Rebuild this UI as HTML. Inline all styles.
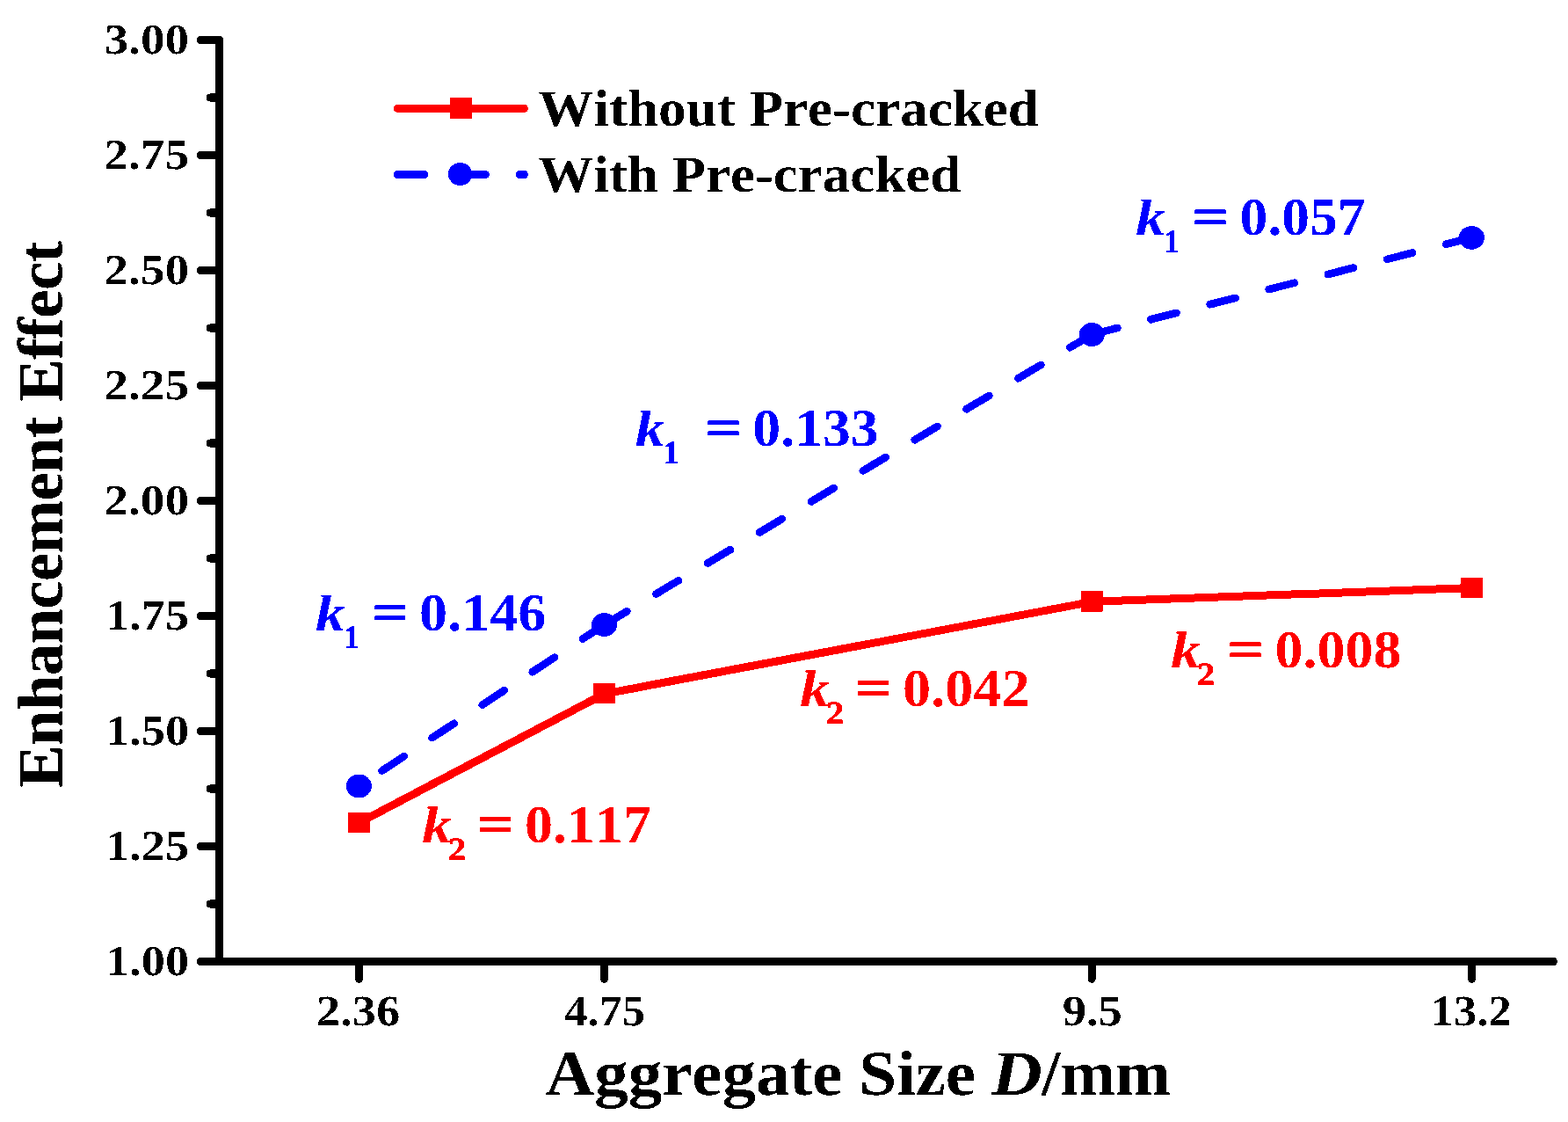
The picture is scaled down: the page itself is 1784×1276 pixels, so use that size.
<!DOCTYPE html>
<html lang="en">
<head>
<meta charset="utf-8">
<title>Enhancement Effect vs Aggregate Size</title>
<style>
html,body{margin:0;padding:0;background:#fff;overflow:hidden}
svg{display:block;font-family:"Liberation Serif","DejaVu Serif",serif;font-weight:bold;font-kerning:none;text-rendering:geometricPrecision}
text{white-space:pre}
</style>
</head>
<body>
<svg width="1784" height="1276" viewBox="0 0 1784 1276">
<defs>
<filter id="hard" filterUnits="userSpaceOnUse" x="0" y="0" width="1784" height="1276" color-interpolation-filters="sRGB">
<feComponentTransfer><feFuncR type="discrete" tableValues="0 1"/><feFuncG type="discrete" tableValues="0 1"/><feFuncB type="discrete" tableValues="0 1"/><feFuncA type="discrete" tableValues="0 1"/></feComponentTransfer>
</filter>
</defs>
<rect width="1784" height="1276" fill="#fff"/>
<g id="chart" filter="url(#hard)">
<g id="axes" stroke="#000" stroke-width="9" stroke-linecap="round" fill="none">
<line x1="249.5" y1="45.5" x2="249.5" y2="1093.5"/>
<line x1="228.5" y1="1093.5" x2="1767.5" y2="1093.5"/>
<line x1="228.5" y1="45.5" x2="249.5" y2="45.5"/>
<line x1="228.5" y1="176.5" x2="249.5" y2="176.5"/>
<line x1="228.5" y1="307.5" x2="249.5" y2="307.5"/>
<line x1="228.5" y1="438.5" x2="249.5" y2="438.5"/>
<line x1="228.5" y1="569.5" x2="249.5" y2="569.5"/>
<line x1="228.5" y1="700.5" x2="249.5" y2="700.5"/>
<line x1="228.5" y1="831.5" x2="249.5" y2="831.5"/>
<line x1="228.5" y1="962.5" x2="249.5" y2="962.5"/>
<line x1="228.5" y1="1093.5" x2="249.5" y2="1093.5"/>
<line x1="239" y1="111.0" x2="249.5" y2="111.0"/>
<line x1="239" y1="242.0" x2="249.5" y2="242.0"/>
<line x1="239" y1="373.0" x2="249.5" y2="373.0"/>
<line x1="239" y1="504.0" x2="249.5" y2="504.0"/>
<line x1="239" y1="635.0" x2="249.5" y2="635.0"/>
<line x1="239" y1="766.0" x2="249.5" y2="766.0"/>
<line x1="239" y1="897.0" x2="249.5" y2="897.0"/>
<line x1="239" y1="1028.0" x2="249.5" y2="1028.0"/>
<line x1="408.4" y1="1093.5" x2="408.4" y2="1113.3"/>
<line x1="687.6" y1="1093.5" x2="687.6" y2="1113.3"/>
<line x1="1242.2" y1="1093.5" x2="1242.2" y2="1113.3"/>
<line x1="1674.5" y1="1093.5" x2="1674.5" y2="1113.3"/>
</g>
<g id="ylabels" stroke="#fff" stroke-width="0.25">
<text transform="translate(118.63,61) scale(1.1338,1)" font-size="48.6">3.00</text>
<text transform="translate(118.35,192) scale(1.1372,1)" font-size="48.6">2.75</text>
<text transform="translate(118.35,323) scale(1.1372,1)" font-size="48.6">2.50</text>
<text transform="translate(118.35,454) scale(1.1372,1)" font-size="48.6">2.25</text>
<text transform="translate(118.35,585) scale(1.1372,1)" font-size="48.6">2.00</text>
<text transform="translate(120.16,716) scale(1.1155,1)" font-size="48.6">1.75</text>
<text transform="translate(120.16,847) scale(1.1155,1)" font-size="48.6">1.50</text>
<text transform="translate(120.16,978) scale(1.1155,1)" font-size="48.6">1.25</text>
<text transform="translate(120.16,1109) scale(1.1155,1)" font-size="48.6">1.00</text>
</g>
<g id="xlabels" stroke="#fff" stroke-width="0.25">
<text transform="translate(359.99,1166.4) scale(1.1050,1)" font-size="49.2">2.36</text>
<text transform="translate(642.14,1166.4) scale(1.0665,1)" font-size="49.2">4.75</text>
<text transform="translate(1208.7,1166.4) scale(1.1063,1)" font-size="49.2">9.5</text>
<text transform="translate(1627.8,1166.4) scale(1.0678,1)" font-size="49.2">13.2</text>
</g>
<text y="1245.4"><tspan x="620.53" textLength="337.87" lengthAdjust="spacingAndGlyphs" font-size="72.5">Aggregate</tspan><tspan x="957.97" textLength="152.16" lengthAdjust="spacingAndGlyphs" font-size="72.5"> Size</tspan><tspan x="1108.13" textLength="77.66" lengthAdjust="spacingAndGlyphs" font-size="72.5" font-style="italic"> D</tspan><tspan x="1185.25" textLength="146.57" lengthAdjust="spacingAndGlyphs" font-size="72.5">/mm</tspan></text>
<text transform="translate(70.4,895.67) rotate(-90)" font-size="72.5" letter-spacing="-0.516" stroke="#000" stroke-width="0.3">Enhancement Effect</text>
<g id="series-without">
<polyline fill="none" stroke="#f00" stroke-width="9" stroke-linejoin="round" points="408.3,935.8 687.5,789.1 1242.3,684.3 1674.4,668.6"/>
<rect x="395.8" y="923.8" width="25" height="23.2" fill="#f00"/>
<rect x="675.0" y="777.1" width="25" height="23.2" fill="#f00"/>
<rect x="1229.8" y="672.3" width="25" height="23.2" fill="#f00"/>
<rect x="1661.9" y="656.6" width="25" height="23.2" fill="#f00"/>
</g>
<g id="series-with">
<g fill="none" stroke="#00f" stroke-width="8.7" stroke-linecap="round">
<line x1="408.3" y1="893.9" x2="687.5" y2="710.5" stroke-dasharray="30 38.3" stroke-dashoffset="36.9"/>
<line x1="687.5" y1="710.5" x2="1242.3" y2="380.4" stroke-dasharray="30 38.5" stroke-dashoffset="0"/>
<line x1="1242.3" y1="380.4" x2="1674.4" y2="270.3" stroke-dasharray="30 39.3" stroke-dashoffset="0"/>
</g>
<ellipse cx="408.3" cy="893.9" rx="14.5" ry="13.4" fill="#00f"/>
<ellipse cx="687.5" cy="710.5" rx="14.5" ry="13.4" fill="#00f"/>
<ellipse cx="1242.3" cy="380.4" rx="14.5" ry="13.4" fill="#00f"/>
<ellipse cx="1674.4" cy="270.3" rx="14.5" ry="13.4" fill="#00f"/>
</g>
<g id="legend">
<line x1="452.4" y1="123.4" x2="596.5" y2="123.4" stroke="#f00" stroke-width="9" stroke-linecap="round"/>
<rect x="512" y="111" width="25" height="24" fill="#f00"/>
<line x1="452.4" y1="198.5" x2="596.5" y2="198.5" stroke="#00f" stroke-width="9" stroke-linecap="round" stroke-dasharray="30.3 39.2"/>
<ellipse cx="523.6" cy="198" rx="13.6" ry="13" fill="#00f"/>
<text transform="translate(612.35,143.4) scale(1.0695,1)" font-size="59">Without Pre-cracked</text>
<text transform="translate(612.36,218.4) scale(1.0672,1)" font-size="59">With Pre-cracked</text>
</g>
<g id="annotations">
<text y="717.3" fill="#00f"><tspan x="358.99" textLength="33.51" lengthAdjust="spacingAndGlyphs" font-size="58.5" font-style="italic">k</tspan><tspan x="391.3" textLength="17.21" lengthAdjust="spacingAndGlyphs" font-size="37" dy="20" stroke="#00f" stroke-width="0.6">1</tspan><tspan x="404.13" textLength="61.02" lengthAdjust="spacingAndGlyphs" font-size="60.6" dy="-20" stroke="#00f" stroke-width="0.5"> =</tspan><tspan x="461.06" textLength="160.37" lengthAdjust="spacingAndGlyphs" font-size="60.6"> 0.146</tspan></text>
<text y="507.3" fill="#00f"><tspan x="722.74" textLength="33.51" lengthAdjust="spacingAndGlyphs" font-size="58.5" font-style="italic">k</tspan><tspan x="755.05" textLength="17.21" lengthAdjust="spacingAndGlyphs" font-size="37" dy="20" stroke="#00f" stroke-width="0.6">1</tspan><tspan x="783.38" textLength="61.02" lengthAdjust="spacingAndGlyphs" font-size="60.6" dy="-20" stroke="#00f" stroke-width="0.5"> =</tspan><tspan x="840.43" textLength="159.3" lengthAdjust="spacingAndGlyphs" font-size="60.6"> 0.133</tspan></text>
<text y="267.3" fill="#00f"><tspan x="1292.24" textLength="33.51" lengthAdjust="spacingAndGlyphs" font-size="58.5" font-style="italic">k</tspan><tspan x="1324.55" textLength="17.21" lengthAdjust="spacingAndGlyphs" font-size="37" dy="20" stroke="#00f" stroke-width="0.6">1</tspan><tspan x="1337.38" textLength="61.02" lengthAdjust="spacingAndGlyphs" font-size="60.6" dy="-20" stroke="#00f" stroke-width="0.5"> =</tspan><tspan x="1394.73" textLength="158.86" lengthAdjust="spacingAndGlyphs" font-size="60.6"> 0.057</tspan></text>
<text y="958.1" fill="#f00"><tspan x="480.24" textLength="33.51" lengthAdjust="spacingAndGlyphs" font-size="58.5" font-style="italic">k</tspan><tspan x="510.13" textLength="20.24" lengthAdjust="spacingAndGlyphs" font-size="37" dy="20" stroke="#f00" stroke-width="0.6">2</tspan><tspan x="524.13" textLength="61.02" lengthAdjust="spacingAndGlyphs" font-size="60.6" dy="-20" stroke="#f00" stroke-width="0.5"> =</tspan><tspan x="581.1" textLength="159.94" lengthAdjust="spacingAndGlyphs" font-size="60.6"> 0.117</tspan></text>
<text y="803" fill="#f00"><tspan x="910.24" textLength="33.51" lengthAdjust="spacingAndGlyphs" font-size="58.5" font-style="italic">k</tspan><tspan x="940.13" textLength="20.24" lengthAdjust="spacingAndGlyphs" font-size="37" dy="20" stroke="#f00" stroke-width="0.6">2</tspan><tspan x="954.13" textLength="61.02" lengthAdjust="spacingAndGlyphs" font-size="60.6" dy="-20" stroke="#f00" stroke-width="0.5"> =</tspan><tspan x="1011.05" textLength="160.43" lengthAdjust="spacingAndGlyphs" font-size="60.6"> 0.042</tspan></text>
<text y="759.2" fill="#f00"><tspan x="1332.24" textLength="33.51" lengthAdjust="spacingAndGlyphs" font-size="58.5" font-style="italic">k</tspan><tspan x="1362.13" textLength="20.24" lengthAdjust="spacingAndGlyphs" font-size="37" dy="20" stroke="#f00" stroke-width="0.6">2</tspan><tspan x="1377.38" textLength="61.02" lengthAdjust="spacingAndGlyphs" font-size="60.6" dy="-20" stroke="#f00" stroke-width="0.5"> =</tspan><tspan x="1434.6" textLength="159.98" lengthAdjust="spacingAndGlyphs" font-size="60.6"> 0.008</tspan></text>
</g>
</g>
</svg>
</body>
</html>
